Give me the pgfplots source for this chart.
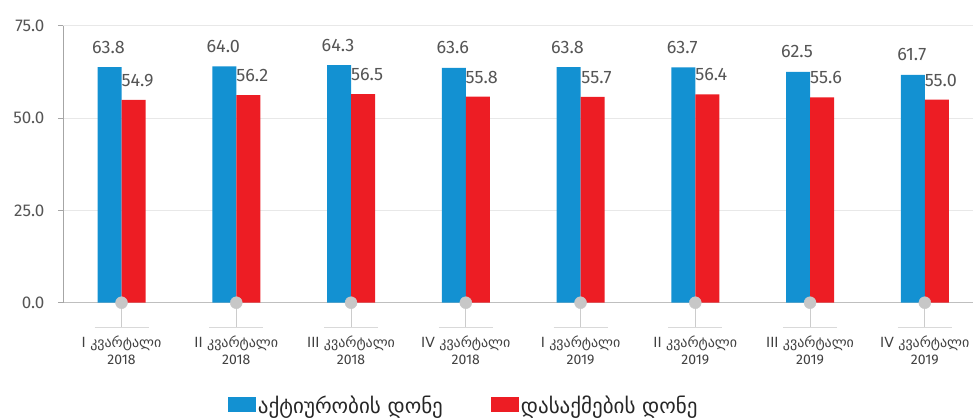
\documentclass[border=0pt]{standalone}
\usepackage{fontspec}
\setmainfont{Fira Sans}
\newfontfamily\geo{DejaVu Sans}
\usepackage{pgfplots}
\pgfplotsset{compat=1.18}
\definecolor{cblue}{RGB}{19,145,210}
\definecolor{cred}{RGB}{237,29,36}
\definecolor{ctext}{RGB}{85,85,85}
\definecolor{ctick}{RGB}{64,64,64}
\begin{document}
\begin{tikzpicture}
\useasboundingbox (-63pt,-116.3pt) rectangle (910pt,302.7pt);
\begin{axis}[
  at={(0,0)}, anchor=south west,
  scale only axis, width=910pt, height=277pt,
  xmin=-0.51, xmax=7.42, ymin=0, ymax=75,
  clip=false,
  axis lines=left,
  x axis line style={-, draw=black!25, line width=1.5pt},
  y axis line style={-, draw=black!35, line width=0.8pt},
  ymajorgrids, grid style={draw=black!9, line width=0.8pt},
  ytick={0,25,50,75},
  tick align=outside, major tick length=5pt,
  ytick style={draw=black!35, line width=0.8pt},
  xtick style={draw=none},
  xtick={0,...,7},
  xticklabels={
    {\geo I კვარტალი\\2018},
    {\geo II კვარტალი\\2018},
    {\geo III კვარტალი\\2018},
    {\geo IV კვარტალი\\2018},
    {\geo I კვარტალი\\2019},
    {\geo II კვარტალი\\2019},
    {\geo III კვარტალი\\2019},
    {\geo IV კვარტალი\\2019}},
  xticklabel style={align=center, font=\fontsize{14}{17}\selectfont, color=ctick, yshift=-25pt},
  yticklabel style={font=\fontsize{17}{17}\selectfont, color=ctext, xshift=-10pt,
    /pgf/number format/.cd, fixed, fixed zerofill, precision=1, assume math mode=true},
  legend columns=2,
  legend style={at={(0.1813,-0.371)}, anchor=west, draw=none, fill=none,
    inner sep=0pt, outer sep=0pt,
    font=\geo\fontsize{21}{23}\selectfont, text=black!85,
    /tikz/every odd column/.append style={column sep=0pt},
    /tikz/every even column/.append style={column sep=46pt}},
  legend image code/.code={\fill[#1, draw=none] (0pt,-7pt) rectangle (28pt,8pt);},
  nodes near coords={\pgfmathprintnumber[fixed,fixed zerofill,precision=1,assume math mode=true]{\pgfplotspointmeta}},
  nodes near coords style={font=\fontsize{18}{18}\selectfont, color=ctext, anchor=base},
]
\addplot[ybar, bar width=24pt, bar shift=-12pt, fill=cblue, draw=none,
  nodes near coords style={yshift=14pt, xshift=-13pt}]
  coordinates {(0,63.8) (1,64.0) (2,64.3) (3,63.6) (4,63.8) (5,63.7) (6,62.5) (7,61.7)};
\addlegendentry{აქტიურობის დონე}
\addplot[ybar, bar width=24pt, bar shift=12pt, fill=cred, draw=none,
  nodes near coords style={yshift=13.5pt, xshift=16pt}]
  coordinates {(0,54.9) (1,56.2) (2,56.5) (3,55.8) (4,55.7) (5,56.4) (6,55.6) (7,55.0)};
\addlegendentry{დასაქმების დონე}
\pgfplotsinvokeforeach{0,...,7}{
  \draw[draw=black!20, line width=1pt] (axis cs:#1,0) -- ++(0pt,-24.5pt);
  \draw[draw=black!15, line width=1pt] (axis cs:#1,0) ++(-27pt,-24.5pt) -- ++(54pt,0pt);
}
\addplot[only marks, mark=*, mark size=6pt, color=black!22, mark options={draw=black!22, fill=black!22}, nodes near coords=, forget plot]
  coordinates {(0,0) (1,0) (2,0) (3,0) (4,0) (5,0) (6,0) (7,0)};
\end{axis}
\end{tikzpicture}
\end{document}
